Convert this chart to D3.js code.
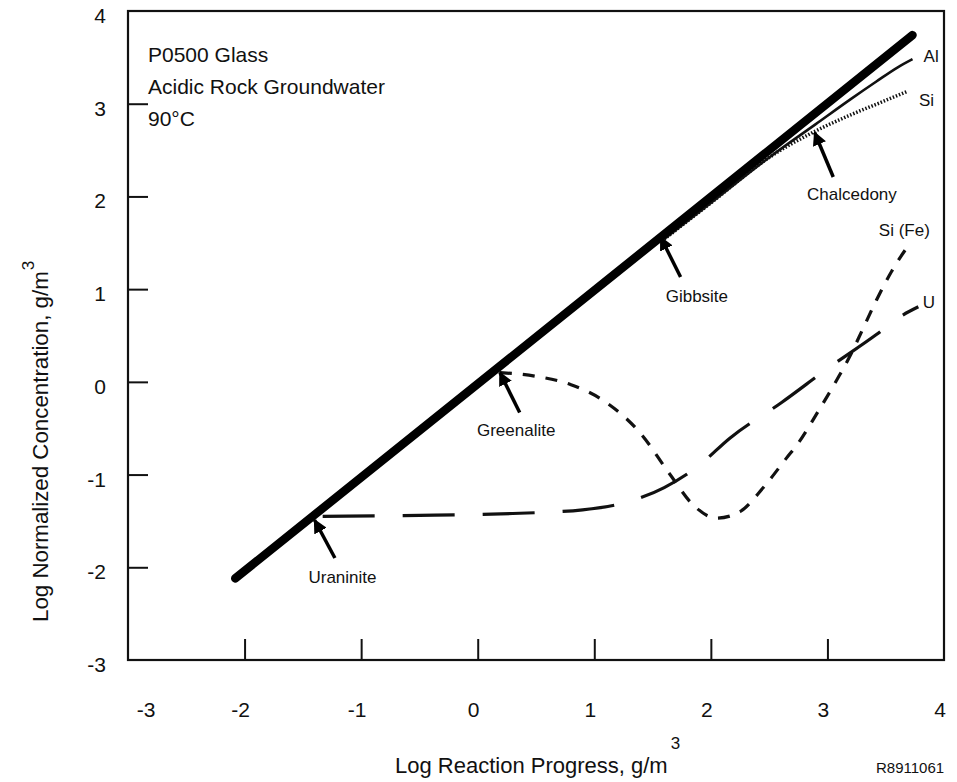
<!DOCTYPE html>
<html>
<head>
<meta charset="utf-8">
<script src="https://cdn.jsdelivr.net/npm/d3@7"></script>
<style>
  body { margin: 0; background: #fff; }
  text { font-family: "Liberation Sans", Arial, sans-serif; fill: #111; }
</style>
</head>
<body>
<div id="chart"></div>
<script>
// tick values
var xTicks = [-3, -2, -1, 0, 1, 2, 3, 4];
var yTicks = [-3, -2, -1, 0, 1, 2, 3, 4];

// glass dissolution line (thick)
var glassX = [-2.08, 3.73];
var glassY = [-2.12, 3.74];

// Al (solid thin)
var alX = [1.6, 2.0, 2.5, 2.9, 3.2, 3.42, 3.6, 3.73];
var alY = [1.54, 1.93, 2.42, 2.78, 3.05, 3.24, 3.39, 3.48];

// Si (dotted)
var siX = [1.6, 2.0, 2.5, 2.89, 3.2, 3.45, 3.68];
var siY = [1.54, 1.93, 2.42, 2.70, 2.88, 3.01, 3.13];

// Si (Fe) (short dashes)
var sifeX = [0.19, 0.5, 0.8, 1.1, 1.4, 1.65, 1.85, 2.05, 2.25, 2.45, 2.65, 2.75, 2.91, 3.08, 3.19, 3.30, 3.42, 3.55, 3.71];
var sifeY = [0.10, 0.06, -0.03, -0.22, -0.56, -1.0, -1.33, -1.47, -1.40, -1.14, -0.82, -0.66, -0.34, 0.02, 0.27, 0.56, 0.88, 1.19, 1.50];

// U (long dashes)
var uX = [-1.33, -0.5, 0.3, 0.9, 1.3, 1.6, 1.9, 2.16, 2.61, 3.02, 3.42, 3.62, 3.78];
var uY = [-1.45, -1.44, -1.42, -1.38, -1.29, -1.14, -0.90, -0.61, -0.22, 0.16, 0.51, 0.70, 0.81];

// mineral arrows: tip, tail, label (data units)
var minerals = ["Uraninite", "Greenalite", "Gibbsite", "Chalcedony"];
var tipX = [-1.40, 0.19, 1.57, 2.89];
var tipY = [-1.49, 0.10, 1.56, 2.69];
var tailX = [-1.225, 0.36, 1.74, 3.05];
var tailY = [-1.90, -0.33, 1.13, 2.21];
var labX = [-1.16, 0.33, 1.88, 3.21];
var labY = [-2.10, -0.52, 0.93, 2.03];

// curve end labels
var curveNames = ["Al", "Si", "Si (Fe)", "U"];
var curveLabX = [3.89, 3.85, 3.66, 3.87];
var curveLabY = [3.52, 3.04, 1.64, 0.86];

var notes = ["P0500 Glass", "Acidic Rock Groundwater", "90°C"];

var W = 957, H = 782;
var m = {left: 128, right: 944, top: 11, bottom: 660};

var svg = d3.select("#chart").append("svg")
  .attr("width", W).attr("height", H);

var x = d3.scaleLinear().domain([-3, 4]).range([m.left, m.right]);
var y = d3.scaleLinear().domain([-3, 4]).range([m.bottom, m.top]);

// frame
svg.append("rect")
  .attr("x", m.left).attr("y", m.top)
  .attr("width", m.right - m.left).attr("height", m.bottom - m.top)
  .attr("fill", "none").attr("stroke", "#111").attr("stroke-width", 2.2);

// inward ticks
svg.append("g")
  .attr("transform", "translate(0," + m.bottom + ")")
  .call(d3.axisTop(x).tickValues(xTicks.slice(1, -1)).tickSize(21).tickFormat(""))
  .call(g => g.select(".domain").remove())
  .selectAll("line").attr("stroke", "#111").attr("stroke-width", 2);
svg.append("g")
  .attr("transform", "translate(" + m.left + ",0)")
  .call(d3.axisRight(y).tickValues(yTicks.slice(1, -1)).tickSize(20).tickFormat(""))
  .call(g => g.select(".domain").remove())
  .selectAll("line").attr("stroke", "#111").attr("stroke-width", 2);

// tick labels
svg.selectAll(".xl").data(xTicks).enter().append("text")
  .attr("x", d => x(d) + (d === -3 ? 18 : -4))
  .attr("y", 717)
  .attr("text-anchor", "middle")
  .style("font-size", "21px")
  .text(d => d);
svg.selectAll(".yl").data(yTicks).enter().append("text")
  .attr("x", 106)
  .attr("y", d => y(d) + 12)
  .attr("text-anchor", "end")
  .style("font-size", "21px")
  .text(d => d);

// axis titles
var xt = svg.append("text")
  .attr("x", 395).attr("y", 773)
  .style("font-size", "22px");
xt.append("tspan").text("Log Reaction Progress, g/m");
xt.append("tspan").attr("dy", -24).attr("dx", 3).style("font-size", "17px").text("3");

var yt = svg.append("text")
  .attr("transform", "translate(48,622) rotate(-90)")
  .style("font-size", "22.3px");
yt.append("tspan").text("Log Normalized Concentration, g/m");
yt.append("tspan").attr("dy", -14).attr("dx", 1).style("font-size", "17px").text("3");

svg.append("text")
  .attr("x", 876).attr("y", 773)
  .style("font-size", "15px")
  .text("R8911061");

// notes
svg.selectAll(".note").data(notes).enter().append("text")
  .attr("x", 148)
  .attr("y", (d, i) => 62 + i * 32)
  .style("font-size", "21px")
  .text(d => d);

var line = d3.line().x(d => x(d[0])).y(d => y(d[1])).curve(d3.curveMonotoneX);
function pts(xs, ys) { return xs.map((v, i) => [v, ys[i]]); }

svg.append("path").datum(pts(uX, uY)).attr("d", line)
  .attr("fill", "none").attr("stroke", "#111").attr("stroke-width", 3.2)
  .attr("stroke-dasharray", "52,28");
svg.append("path").datum(pts(sifeX, sifeY)).attr("d", line)
  .attr("fill", "none").attr("stroke", "#111").attr("stroke-width", 3.2)
  .attr("stroke-dasharray", "12,11");
svg.append("path").datum(pts(siX, siY)).attr("d", line)
  .attr("fill", "none").attr("stroke", "#111").attr("stroke-width", 3.5)
  .attr("stroke-dasharray", "1.5,1.8");
svg.append("path").datum(pts(alX, alY)).attr("d", line)
  .attr("fill", "none").attr("stroke", "#111").attr("stroke-width", 2.6);
svg.append("path").datum(pts(glassX, glassY)).attr("d", line)
  .attr("fill", "none").attr("stroke", "#000").attr("stroke-width", 8.5)
  .attr("stroke-linecap", "round");

// arrows
svg.append("defs").append("marker")
  .attr("id", "head").attr("viewBox", "0 0 10 10")
  .attr("refX", 9).attr("refY", 5)
  .attr("markerWidth", 4).attr("markerHeight", 4)
  .attr("orient", "auto")
  .append("path").attr("d", "M0,0L10,5L0,10z").attr("fill", "#000");

svg.selectAll(".arrow").data(minerals).enter().append("line")
  .attr("x1", (d, i) => x(tailX[i])).attr("y1", (d, i) => y(tailY[i]))
  .attr("x2", (d, i) => x(tipX[i])).attr("y2", (d, i) => y(tipY[i]))
  .attr("stroke", "#000").attr("stroke-width", 3.5)
  .attr("marker-end", "url(#head)");

svg.selectAll(".mlab").data(minerals).enter().append("text")
  .attr("x", (d, i) => x(labX[i])).attr("y", (d, i) => y(labY[i]) + 6)
  .attr("text-anchor", "middle")
  .style("font-size", "17px")
  .text(d => d);

svg.selectAll(".clab").data(curveNames).enter().append("text")
  .attr("x", (d, i) => x(curveLabX[i])).attr("y", (d, i) => y(curveLabY[i]) + 6)
  .attr("text-anchor", "middle")
  .style("font-size", "17px")
  .text(d => d);
</script>
</body>
</html>
